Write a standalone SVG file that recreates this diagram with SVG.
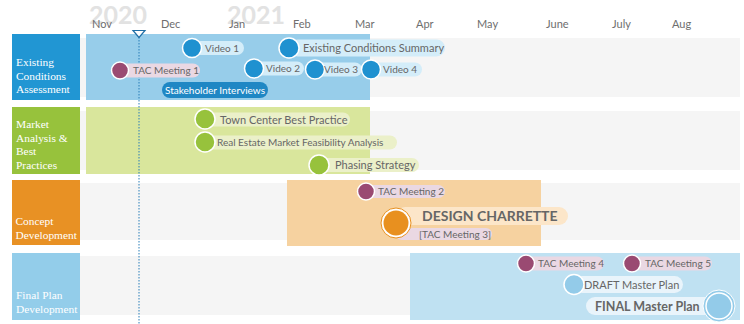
<svg xmlns="http://www.w3.org/2000/svg" width="744" height="324" viewBox="0 0 744 324">
  <style>
    .year { font-family: Lato, "Open Sans", sans-serif; font-weight: bold; font-size: 25px; fill: #e2e2e2; }
    .month { font-family: Lato, "Open Sans", sans-serif; font-size: 11px; fill: #6e6e6e; }
    .phase { font-family: "Liberation Serif", serif; font-size: 11.4px; fill: #ffffff; }
    .lbl { font-family: Lato, "Open Sans", sans-serif; font-size: 10px; fill: #666666; }
    .lbl11 { font-family: Lato, "Open Sans", sans-serif; font-size: 11px; fill: #666666; }
    .big { font-family: Lato, "Open Sans", sans-serif; font-weight: bold; fill: #666666; }
    .track { fill: #f5f5f5; }
    .dot { stroke: #ffffff; stroke-width: 1.5; }
    .blue { fill: #1f91d0; }
    .green { fill: #97c23c; }
    .tac { fill: #9a4a72; }
    .orange { fill: #e8901f; }
    .sky { fill: #93cbe9; }
    .pill-blue { fill: #d4edf9; }
    .pill-green { fill: #ebf0c9; }
    .pill-tac { fill: #ead8e3; }
    .pill-sky { fill: #e9f4fb; }
  </style>

  <!-- year and month headings (years sit faintly behind the months) -->
  <g id="timeline-header">
    <text class="year" x="89" y="24">2020</text>
    <text class="year" x="227" y="24">2021</text>
    <text class="month" x="92" y="28">Nov</text>
    <text class="month" x="161" y="28">Dec</text>
    <text class="month" x="229" y="28">Jan</text>
    <text class="month" x="293" y="28">Feb</text>
    <text class="month" x="355" y="28">Mar</text>
    <text class="month" x="416" y="28">Apr</text>
    <text class="month" x="477" y="28">May</text>
    <text class="month" x="546" y="28">June</text>
    <text class="month" x="612" y="28">July</text>
    <text class="month" x="672" y="28">Aug</text>
  </g>

  <!-- phase rows: label box, grey track, coloured span -->
  <g id="phase-existing">
    <rect class="track" x="80" y="38" width="660" height="59"/>
    <rect x="86" y="34" width="284" height="66" fill="#97cdea"/>
    <rect x="12" y="34" width="68" height="66" fill="#2196d3"/>
    <text class="phase" x="16" y="66">Existing</text>
    <text class="phase" x="16" y="79.5">Conditions</text>
    <text class="phase" x="16" y="93">Assessment</text>
  </g>
  <g id="phase-market">
    <rect class="track" x="80" y="111" width="660" height="59"/>
    <rect x="86" y="107" width="284" height="67" fill="#d9e69c"/>
    <rect x="12" y="107" width="68" height="67" fill="#97c23c"/>
    <text class="phase" x="16" y="128">Market</text>
    <text class="phase" x="16" y="141.5">Analysis &amp;</text>
    <text class="phase" x="16" y="155">Best</text>
    <text class="phase" x="16" y="168.5">Practices</text>
  </g>
  <g id="phase-concept">
    <rect class="track" x="80" y="183" width="660" height="57"/>
    <rect x="287" y="180" width="254" height="66" fill="#f6d2a0"/>
    <rect x="12" y="180" width="68" height="65" fill="#e89124"/>
    <text class="phase" x="15.5" y="225">Concept</text>
    <text class="phase" x="15.5" y="238.5">Development</text>
  </g>
  <g id="phase-final">
    <rect class="track" x="80" y="256" width="660" height="59"/>
    <rect x="410" y="253" width="330" height="67" fill="#bfe1f2"/>
    <rect x="12" y="253" width="68" height="67" fill="#93cdea"/>
    <text class="phase" x="16" y="299">Final Plan</text>
    <text class="phase" x="16" y="313">Development</text>
  </g>

  <!-- "today" marker -->
  <g id="today-marker">
    <line x1="139" y1="37" x2="139" y2="324" stroke="#2a7fb8" stroke-width="1" stroke-dasharray="1.5 1.5"/>
    <polygon points="133,30.5 145,30.5 139,37.5" fill="#ffffff" stroke="#1f6fa6" stroke-width="1.2"/>
  </g>

  <!-- row 1 milestones -->
  <g id="video-1">
    <rect class="pill-blue" x="192" y="41" width="52" height="14" rx="7"/>
    <circle class="blue dot" cx="192" cy="48" r="9.5"/>
    <text class="lbl" x="205" y="51.5">Video 1</text>
  </g>
  <g id="existing-conditions-summary">
    <rect class="pill-blue" x="289" y="39.5" width="156" height="17" rx="8.5"/>
    <circle class="blue dot" cx="289" cy="48" r="10"/>
    <text class="lbl11" x="303" y="52">Existing Conditions Summary</text>
  </g>
  <g id="tac-meeting-1">
    <rect class="pill-tac" x="120" y="63.5" width="80" height="14" rx="7"/>
    <circle class="tac dot" cx="120" cy="70.5" r="8.5"/>
    <text class="lbl" x="133" y="74">TAC Meeting 1</text>
  </g>
  <g id="video-2">
    <rect class="pill-blue" x="254" y="61.5" width="50" height="14" rx="7"/>
    <circle class="blue dot" cx="254" cy="68.5" r="9.5"/>
    <text class="lbl" x="266" y="72">Video 2</text>
  </g>
  <g id="video-3">
    <rect class="pill-blue" x="315" y="62.5" width="47" height="14" rx="7"/>
    <circle class="blue dot" cx="315" cy="69.5" r="9.5"/>
    <text class="lbl" x="324" y="73">Video 3</text>
  </g>
  <g id="video-4">
    <rect class="pill-blue" x="371" y="62.5" width="51" height="14" rx="7"/>
    <circle class="blue dot" cx="371" cy="69.5" r="9.5"/>
    <text class="lbl" x="383" y="73">Video 4</text>
  </g>
  <g id="stakeholder-interviews">
    <rect x="162" y="82" width="106" height="16" rx="8" fill="#1f87c4"/>
    <text class="lbl" x="215" y="93.5" text-anchor="middle" style="fill:#ffffff">Stakeholder Interviews</text>
  </g>

  <!-- row 2 milestones -->
  <g id="town-center-best-practice">
    <rect class="pill-green" x="205" y="112.5" width="145" height="14" rx="7"/>
    <circle class="green dot" cx="205" cy="119" r="10"/>
    <text class="lbl11" x="220" y="123.5" font-size="10.8">Town Center Best Practice</text>
  </g>
  <g id="real-estate-feasibility">
    <rect class="pill-green" x="205" y="135.5" width="192" height="14" rx="7"/>
    <circle class="green dot" cx="205" cy="142" r="10"/>
    <text class="lbl" x="217" y="146" font-size="10.3">Real Estate Market Feasibility Analysis</text>
  </g>
  <g id="phasing-strategy">
    <rect class="pill-green" x="319" y="158" width="100" height="14" rx="7"/>
    <circle class="green dot" cx="319" cy="165" r="10"/>
    <text class="lbl11" x="335" y="169">Phasing Strategy</text>
  </g>

  <!-- row 3 milestones -->
  <g id="tac-meeting-2">
    <rect class="pill-tac" x="366" y="185" width="79" height="13" rx="6.5"/>
    <circle class="tac dot" cx="366" cy="191.5" r="8.5"/>
    <text class="lbl" x="378" y="195" font-size="9.5">TAC Meeting 2</text>
  </g>
  <g id="design-charrette">
    <rect x="396" y="207" width="172" height="18" rx="9" fill="#fce6c9"/>
    <rect class="pill-tac" x="396" y="228" width="96" height="12" rx="6"/>
    <text class="lbl" x="419" y="237.5" font-size="9.5">[TAC Meeting 3]</text>
    <circle cx="396" cy="223" r="15" fill="#ffffff" stroke="#e8901f" stroke-width="1"/>
    <circle class="orange" cx="396" cy="223" r="12.5"/>
    <text class="big" x="422" y="221" font-size="14">DESIGN CHARRETTE</text>
  </g>

  <!-- row 4 milestones -->
  <g id="tac-meeting-4">
    <rect class="pill-tac" x="526" y="256.5" width="78" height="14" rx="7"/>
    <circle class="tac dot" cx="526" cy="263.5" r="8.5"/>
    <text class="lbl" x="538" y="267">TAC Meeting 4</text>
  </g>
  <g id="tac-meeting-5">
    <rect class="pill-tac" x="632" y="256.5" width="80" height="14" rx="7"/>
    <circle class="tac dot" cx="632" cy="263.5" r="8.5"/>
    <text class="lbl" x="645" y="267">TAC Meeting 5</text>
  </g>
  <g id="draft-master-plan">
    <rect class="pill-sky" x="574" y="276" width="109" height="17" rx="8.5"/>
    <circle class="sky dot" cx="574" cy="284.5" r="10"/>
    <text class="lbl11" x="584" y="289" font-size="11.5">DRAFT Master Plan</text>
  </g>
  <g id="final-master-plan">
    <rect class="pill-sky" x="586" y="297" width="134" height="18" rx="9"/>
    <circle cx="719" cy="306" r="16" fill="#93cbe9" stroke="#ffffff" stroke-width="1"/>
    <circle class="sky" cx="719" cy="306" r="13" stroke="#ffffff" stroke-width="1.5"/>
    <text class="big" x="595" y="311" font-size="12.5">FINAL Master Plan</text>
  </g>
</svg>
